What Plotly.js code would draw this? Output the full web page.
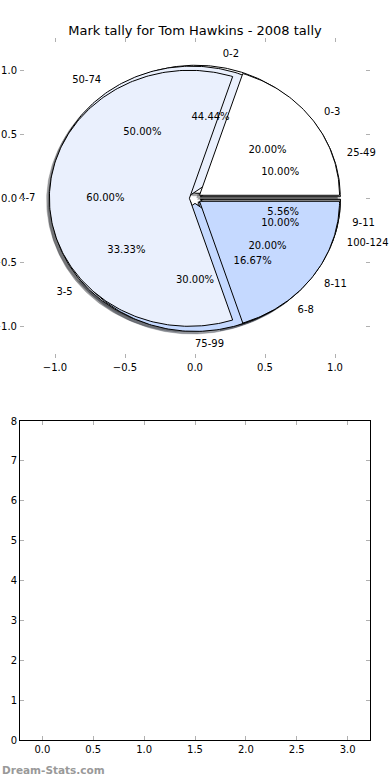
<!DOCTYPE html>
<html><head><meta charset="utf-8">
<script src="https://cdn.plot.ly/plotly-3.0.1.min.js"></script>
<style>html,body{margin:0;padding:0;background:#fff}#chart{width:390px;height:780px}</style>
</head><body><div id="chart"></div>
<script>
const chartTitle = 'Mark tally for Tom Hawkins - 2008 tally';
const pieALabels = ['0-2', '3-5', '6-8', '9-11'];
const pieAValues = [8, 6, 3, 1];
const pieBLabels = ['25-49', '50-74', '75-99', '100-124'];
const pieBValues = [1, 5, 3, 1];
const pieCLabels = ['0-3', '4-7', '8-11'];
const pieCValues = [1, 3, 1];
const pieTicks = [-1, -0.5, 0, 0.5, 1];
const lowerXTicks = [0, 0.5, 1, 1.5, 2, 2.5, 3];
const lowerYTicks = [0, 1, 2, 3, 4, 5, 6, 7, 8];
const watermark = 'Dream-Stats.com';

const sliceColors = ['#ffffff', '#eaf0fd', '#c5d9ff'];
const EXPLODE = 0.04, SHADOW = -0.02, LABEL_R = 1.1, PCT_R = 0.6;

function hexRgb(h) { return [1, 3, 5].map(i => parseInt(h.slice(i, i + 2), 16)); }

function buildPie(labels, values) {
  const total = values.reduce((a, b) => a + b, 0);
  let t1 = 0;
  const out = [];
  values.forEach((v, i) => {
    const frac = v / total, t2 = t1 + frac;
    const tm = Math.PI * (t1 + t2);
    const cx = EXPLODE * Math.cos(tm), cy = EXPLODE * Math.sin(tm);
    const xs = [cx], ys = [cy];
    const a1 = 2 * Math.PI * t1, a2 = 2 * Math.PI * t2;
    const n = Math.max(2, Math.ceil((a2 - a1) / (Math.PI / 180)));
    for (let k = 0; k <= n; k++) {
      const a = a1 + (a2 - a1) * k / n;
      xs.push(cx + Math.cos(a)); ys.push(cy + Math.sin(a));
    }
    xs.push(cx); ys.push(cy);
    out.push({
      label: labels[i], pct: (100 * frac).toFixed(2) + '%', xs, ys,
      color: sliceColors[i % sliceColors.length],
      lx: cx + LABEL_R * Math.cos(tm), ly: cy + LABEL_R * Math.sin(tm),
      px: cx + PCT_R * Math.cos(tm), py: cy + PCT_R * Math.sin(tm)
    });
    t1 = t2;
  });
  return out;
}

const pies = [buildPie(pieALabels, pieAValues), buildPie(pieBLabels, pieBValues), buildPie(pieCLabels, pieCValues)];
const traces = [];
// shadows (all beneath all wedges)
pies.forEach(p => p.forEach(w => {
  const c = hexRgb(w.color).map(v => Math.round(v * 0.3));
  traces.push({
    x: w.xs.map(v => v + SHADOW), y: w.ys.map(v => v + SHADOW), mode: 'lines', fill: 'toself',
    fillcolor: `rgba(${c[0]},${c[1]},${c[2]},0.5)`, line: {width: 0.5, color: `rgba(${c[0]},${c[1]},${c[2]},0.5)`},
    hoverinfo: 'skip', showlegend: false, xaxis: 'x', yaxis: 'y'
  });
}));
// wedges
pies.forEach(p => p.forEach(w => {
  traces.push({
    x: w.xs, y: w.ys, mode: 'lines', fill: 'toself', fillcolor: w.color,
    line: {width: 1, color: '#000'}, hoverinfo: 'skip', showlegend: false, xaxis: 'x', yaxis: 'y'
  });
}));
// texts
pies.forEach(p => {
  traces.push({
    x: p.map(w => w.lx), y: p.map(w => w.ly), text: p.map(w => w.label), mode: 'text',
    textposition: p.map(w => w.lx > -1e-9 ? 'middle right' : 'middle left'),
    textfont: {family: 'DejaVu Sans', size: 10, color: '#000'}, hoverinfo: 'skip', showlegend: false, xaxis: 'x', yaxis: 'y', cliponaxis: false
  });
  traces.push({
    x: p.map(w => w.px), y: p.map(w => w.py), text: p.map(w => w.pct), mode: 'text', textposition: 'middle center',
    textfont: {family: 'DejaVu Sans', size: 10, color: '#000'}, hoverinfo: 'skip', showlegend: false, xaxis: 'x', yaxis: 'y', cliponaxis: false
  });
});
// empty lower axes
traces.push({x: [], y: [], mode: 'markers', xaxis: 'x2', yaxis: 'y2', showlegend: false, hoverinfo: 'skip'});

const W = 390, H = 780;
const tickStyle = {ticks: 'inside', ticklen: 4, tickwidth: 1, tickcolor: '#b0b0b0', showgrid: false, zeroline: false, fixedrange: true,
  tickfont: {family: 'DejaVu Sans', size: 10, color: '#000'}};
const layout = {
  width: W, height: H, margin: {l: 0, r: 0, t: 0, b: 0}, paper_bgcolor: '#fff', plot_bgcolor: 'rgba(0,0,0,0)', showlegend: false,
  font: {family: 'DejaVu Sans', size: 10, color: '#000'},
  title: {text: chartTitle, font: {family: 'DejaVu Sans', size: 13, color: '#000'}, x: 0.5, xanchor: 'center', xref: 'paper', yref: 'paper', y: 1 - 30 / H, yanchor: 'middle'},
  xaxis: Object.assign({}, tickStyle, {domain: [20 / W, 370 / W], range: [-1.25, 1.25], tickvals: pieTicks, tickformat: '.1f', anchor: 'y', showline: true, linecolor: 'rgba(0,0,0,0)', mirror: 'ticks'}),
  yaxis: Object.assign({}, tickStyle, {domain: [(H - 358.3) / H, (H - 38.3) / H], range: [-1.25, 1.25], tickvals: pieTicks, tickformat: '.1f', anchor: 'x', showline: true, linecolor: 'rgba(0,0,0,0)', mirror: 'ticks'}),
  xaxis2: Object.assign({}, tickStyle, {domain: [20 / W, 370 / W], range: [-0.22, 3.22], tickvals: lowerXTicks, tickformat: '.1f', anchor: 'y2', showline: true, linecolor: '#000', linewidth: 1, mirror: 'ticks'}),
  yaxis2: Object.assign({}, tickStyle, {domain: [(H - 740.3) / H, (H - 421) / H], range: [0, 8], tickvals: lowerYTicks, anchor: 'x2', showline: true, linecolor: '#000', linewidth: 1, mirror: 'ticks'}),
  annotations: [{text: watermark, xref: 'paper', yref: 'paper', x: 0, y: (H - 770) / H, xanchor: 'left', yanchor: 'middle', showarrow: false,
    font: {family: 'DejaVu Sans', size: 10.5, color: '#999', weight: 'bold'}}]
};
Plotly.newPlot('chart', traces, layout, {displayModeBar: false, staticPlot: true});
</script></body></html>
